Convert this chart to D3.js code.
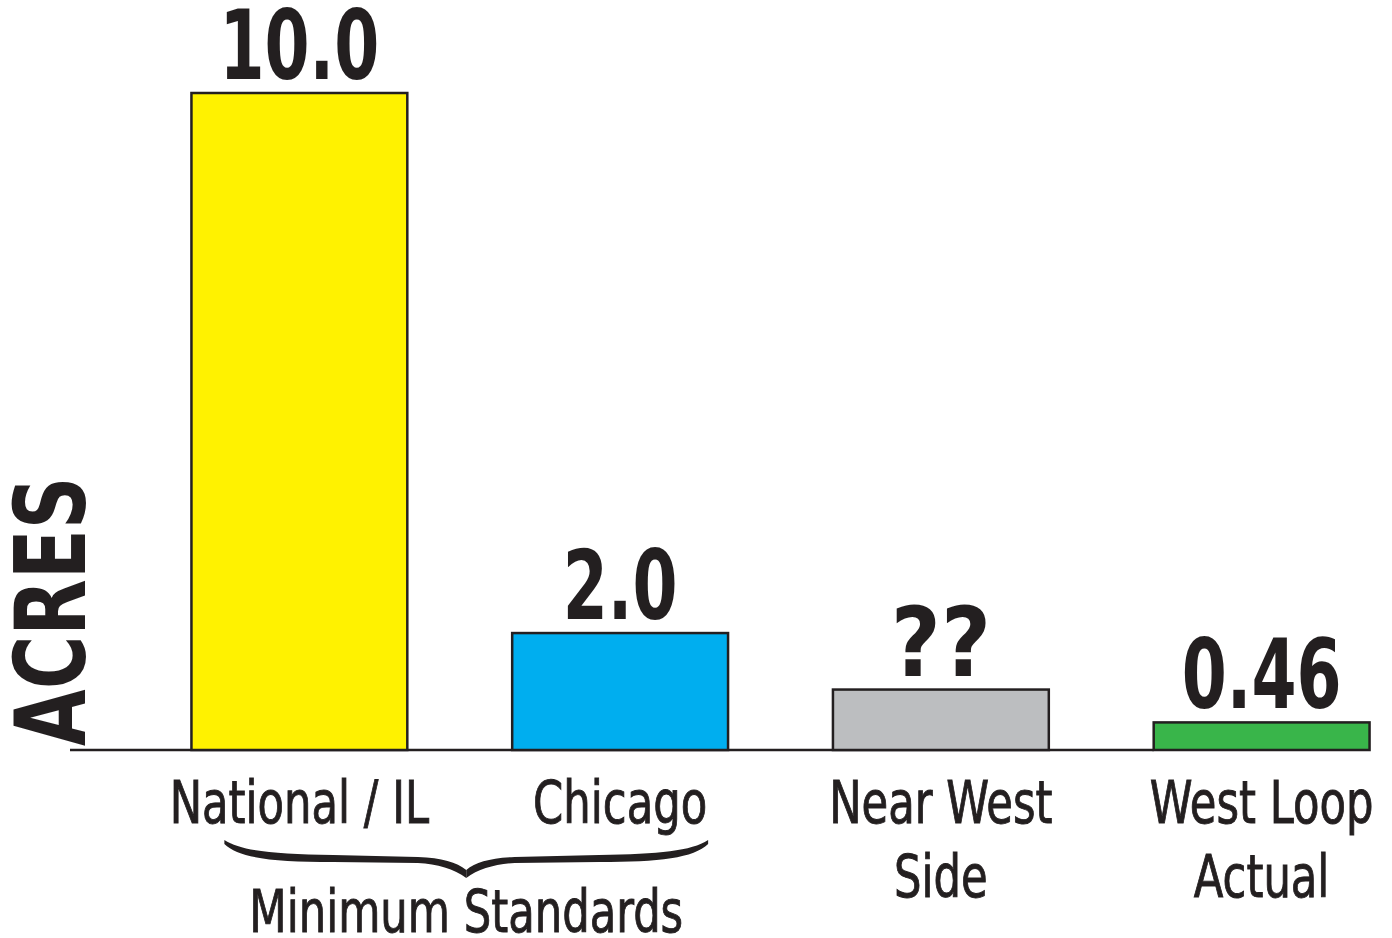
<!DOCTYPE html>
<html>
<head>
<meta charset="utf-8">
<script src="https://cdn.jsdelivr.net/npm/d3@7"></script>
<style>
  html, body { margin: 0; padding: 0; background: #ffffff; }
  svg { display: block; }
  .num { font-family: "DejaVu Sans Condensed", "DejaVu Sans", sans-serif; font-weight: 700; fill: #231f20; }
  .cat { font-family: "DejaVu Sans Condensed", "DejaVu Sans", sans-serif; font-weight: 400; fill: #231f20; stroke: #231f20; stroke-width: 0.9; }
</style>
</head>
<body>
<script>
// ---- data ----
const categories = ["National / IL", "Chicago", "Near West Side", "West Loop Actual"];
const categoryLines = [["National / IL"], ["Chicago"], ["Near West", "Side"], ["West Loop", "Actual"]];
const barValues = [10.0, 1.78, 0.92, 0.42];          // bar heights as drawn (acres)
const valueLabels = ["10.0", "2.0", "??", "0.46"];
const barColors = ["#fff200", "#00aeef", "#bcbec0", "#39b54a"];
const groupLabel = "Minimum Standards";
const groupMembers = ["National / IL", "Chicago"];
const axisTitle = "ACRES";

// ---- layout ----
const W = 1392, H = 938;
const baseY = 750;
const NUM_SX = 0.75, CAT_SX = 0.83;
const svg = d3.select("body").append("svg").attr("width", W).attr("height", H);

const x = d3.scaleBand()
  .domain(categories)
  .range([139, 1422])
  .paddingInner(0.327)
  .paddingOuter(0.1635);
const cx = d => x(d) + x.bandwidth() / 2;

const y = d3.scaleLinear().domain([0, 10]).range([baseY, 93]);

// baseline
svg.append("line")
  .attr("x1", 70).attr("x2", x(categories[3]))
  .attr("y1", baseY).attr("y2", baseY)
  .attr("stroke", "#231f20").attr("stroke-width", 2.5);

// bars
svg.selectAll("rect.bar")
  .data(categories)
  .join("rect")
  .attr("class", "bar")
  .attr("x", d => x(d))
  .attr("width", x.bandwidth())
  .attr("y", (d, i) => y(barValues[i]))
  .attr("height", (d, i) => y(0) - y(barValues[i]))
  .attr("fill", (d, i) => barColors[i])
  .attr("stroke", "#231f20")
  .attr("stroke-width", 2.5);

// value labels (condensed horizontally)
svg.selectAll("text.num")
  .data(categories)
  .join("text")
  .attr("class", "num")
  .attr("transform", (d, i) => {
    const s = /\d/.test(valueLabels[i]) ? NUM_SX : 1;
    return `translate(${cx(d)}, ${y(barValues[i]) - 14}) scale(${s}, 1)`;
  })
  .attr("text-anchor", "middle")
  .attr("font-size", 96)
  .text((d, i) => valueLabels[i]);

// category labels
const catT = svg.selectAll("text.cat")
  .data(categories)
  .join("text")
  .attr("class", "cat")
  .attr("transform", d => `translate(${cx(d)}, 823) scale(${CAT_SX}, 1)`)
  .attr("text-anchor", "middle")
  .attr("font-size", 58);
catT.selectAll("tspan")
  .data((d, i) => categoryLines[i])
  .join("tspan")
  .attr("x", 0)
  .attr("y", (d, j) => j * 74)
  .text(d => d);

// brace under group
const g0 = cx(groupMembers[0]);
const g1 = cx(groupMembers[1]);
const bx0 = g0 - 75, bx1 = g1 + 88, bm = (bx0 + bx1) / 2;
function halfBrace(sx, dir) {
  const L = Math.abs(bm - sx);
  const p = t => sx + dir * t * L;
  return `M${p(0)},840 C${p(0.07)},851 ${p(0.2)},854 ${p(0.45)},855 L${p(0.8)},857 C${p(0.9)},858 ${p(0.96)},862 ${p(1)},870 ` +
         `L${p(1)},878 C${p(0.95)},869 ${p(0.88)},864 ${p(0.8)},863 L${p(0.45)},862 C${p(0.2)},862 ${p(0.06)},858 ${p(0)},844 Z`;
}
svg.append("path").attr("d", halfBrace(bx0, 1)).attr("fill", "#231f20");
svg.append("path").attr("d", halfBrace(bx1, -1)).attr("fill", "#231f20");

svg.append("text")
  .attr("class", "cat")
  .attr("transform", `translate(${bm}, 932) scale(${CAT_SX}, 1)`)
  .attr("text-anchor", "middle")
  .attr("font-size", 58)
  .text(groupLabel);

// axis title
svg.append("text")
  .attr("class", "num")
  .attr("transform", `translate(85, ${baseY - 4}) rotate(-90) scale(0.83, 1)`)
  .attr("font-size", 98)
  .text(axisTitle);
</script>
</body>
</html>
